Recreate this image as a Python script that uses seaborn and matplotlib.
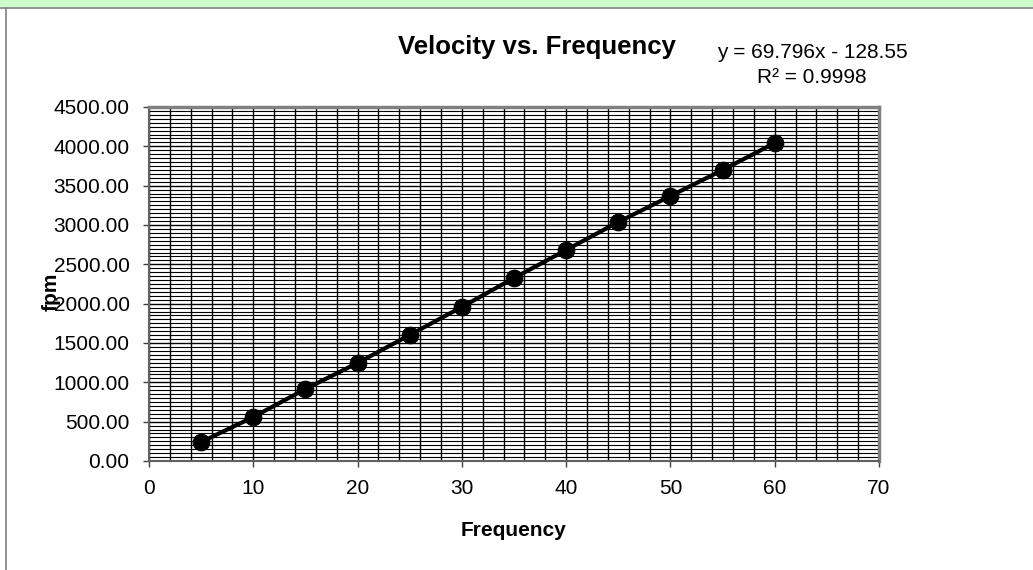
import numpy as np
import pandas as pd
import matplotlib
matplotlib.use("Agg")
import matplotlib.pyplot as plt
from matplotlib.ticker import MultipleLocator, FormatStrFormatter
from matplotlib.patches import Rectangle
import seaborn as sns

# Measured belt velocity (fpm) at each drive frequency (Hz)
frequency = [5, 10, 15, 20, 25, 30, 35, 40, 45, 50, 55, 60]
velocity = [241, 559, 915, 1246, 1602, 1958, 2326, 2682, 3038, 3368, 3699, 4042]

title = "Velocity vs. Frequency"
x_label = "Frequency"
y_label = "fpm"
trend_text = "y = 69.796x - 128.55\nR\u00b2 = 0.9998"

df = pd.DataFrame({"Frequency": frequency, "fpm": velocity})

sns.set_theme(style="white")
plt.rcParams["font.family"] = ["Liberation Sans", "DejaVu Sans"]

fig = plt.figure(figsize=(10.33, 5.70), dpi=100)
fig.patch.set_facecolor("white")

# green band above the chart frame and the frame itself
fig.patches.append(Rectangle((0, 1 - 7 / 570), 1, 7 / 570, transform=fig.transFigure,
                             facecolor="#ccffcc", edgecolor="none", zorder=0))
fig.lines.append(plt.Line2D([0, 1], [1 - 7.5 / 570, 1 - 7.5 / 570], transform=fig.transFigure,
                            color="#808080", linewidth=1.2))
fig.lines.append(plt.Line2D([5.5 / 1033, 5.5 / 1033], [0, 1 - 7.5 / 570], transform=fig.transFigure,
                            color="#808080", linewidth=1.2))

ax = fig.add_axes([149 / 1033, 1 - 461 / 570, (879 - 149) / 1033, (461 - 107) / 570])

sns.lineplot(data=df, x="Frequency", y="fpm", ax=ax, color="black", linewidth=3,
             marker="o", markersize=12, markeredgecolor="black", zorder=5)

ax.set_xlim(0, 70)
ax.set_ylim(0, 4500)
ax.xaxis.set_major_locator(MultipleLocator(10))
ax.xaxis.set_minor_locator(MultipleLocator(2))
ax.yaxis.set_major_locator(MultipleLocator(500))
ax.yaxis.set_minor_locator(MultipleLocator(50))
ax.yaxis.set_major_formatter(FormatStrFormatter("%.2f"))

ax.grid(True, which="major", axis="both", color="black", linewidth=1.0)
ax.grid(True, which="minor", axis="x", color="black", linewidth=1.0)
ax.grid(True, which="minor", axis="y", color="black", linewidth=0.8)
ax.set_axisbelow(True)

for side in ("top", "right"):
    ax.spines[side].set_color("#808080")
    ax.spines[side].set_linewidth(2.5)
for side in ("bottom", "left"):
    ax.spines[side].set_color("#606060")
    ax.spines[side].set_linewidth(1.5)

ax.tick_params(axis="both", which="major", direction="out", length=4, width=1,
               color="#404040", labelsize=15, labelcolor="black",
               bottom=True, left=True)
ax.tick_params(axis="y", pad=10)
ax.tick_params(axis="x", pad=9)
ax.tick_params(axis="both", which="minor", length=0)

ax.set_xlabel("")
ax.set_ylabel("")
fig.text(513 / 1033, 1 - 530 / 570, x_label, fontsize=15, fontweight="bold",
         ha="center", va="center", color="black")
fig.text(51 / 1033, 1 - 292 / 570, y_label, rotation=90, fontsize=15, fontweight="bold",
         ha="center", va="center", color="black")

fig.text(537 / 1033, 1 - 47 / 570, title, fontsize=18.5, fontweight="bold",
         ha="center", va="center", color="black")
fig.text(812 / 1033, 1 - 65 / 570, trend_text, fontsize=15, ha="center", va="center",
         color="black", linespacing=1.4, multialignment="center")

fig.savefig("out.png", dpi=100, facecolor="white")
